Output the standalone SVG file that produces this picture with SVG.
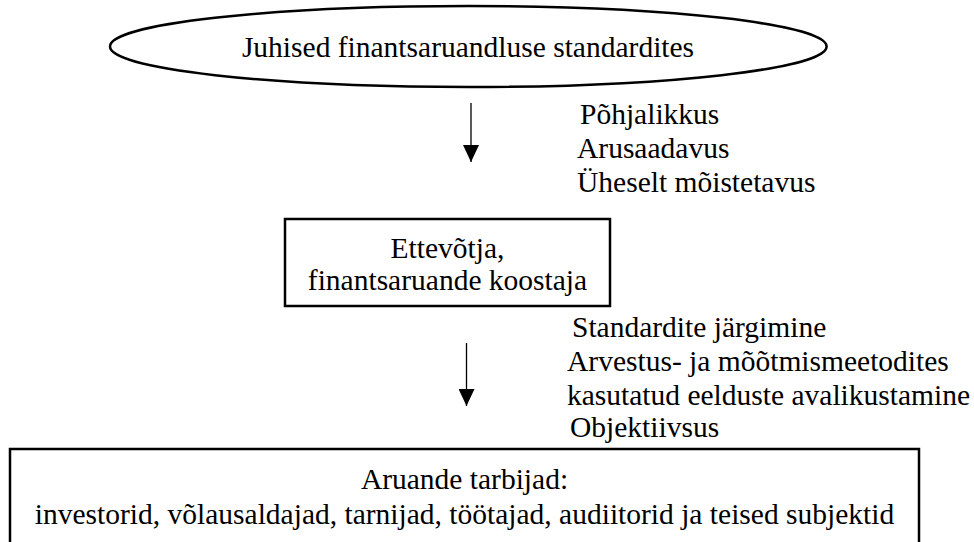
<svg xmlns="http://www.w3.org/2000/svg" width="974" height="542" viewBox="0 0 974 542">
<style>
  text { font-family: "Liberation Serif", "Times New Roman", serif; font-size: 29.5px; fill: #000; }
  .c { text-anchor: middle; }
  .shape { fill: #fff; stroke: #000; stroke-width: 2.5; }
  .conn { stroke: #000; stroke-width: 1.3; fill: none; }
</style>
<defs>
  <marker id="arr" markerWidth="17" markerHeight="16" refX="17" refY="8" orient="auto" markerUnits="userSpaceOnUse" viewBox="0 0 17 16">
    <path d="M0,0 L17,8 L0,16 Z" fill="#000"/>
  </marker>
</defs>
<rect width="974" height="542" fill="#fff"/>
<g id="node-standards">
  <ellipse class="shape" cx="468.3" cy="46.5" rx="358.3" ry="40.5"/>
  <text class="c" x="468" y="57">Juhised finantsaruandluse standardites</text>
</g>
<g id="node-company">
  <rect class="shape" x="285" y="219" width="325" height="87"/>
  <text class="c" x="447.5" y="258">Ettevõtja,</text>
  <text class="c" x="447.5" y="290">finantsaruande koostaja</text>
</g>
<g id="node-users">
  <rect class="shape" x="10" y="449" width="909" height="100"/>
  <text class="c" x="464.5" y="489">Aruande tarbijad:</text>
  <text class="c" x="464.5" y="524">investorid, võlausaldajad, tarnijad, töötajad, audiitorid ja teised subjektid</text>
</g>
<g id="connectors">
  <line class="conn" x1="471" y1="103" x2="471" y2="162" marker-end="url(#arr)"/>
  <line class="conn" x1="466.5" y1="343" x2="466.5" y2="406" marker-end="url(#arr)"/>
</g>
<g id="labels">
  <text x="580" y="124">Põhjalikkus</text>
  <text x="577" y="158">Arusaadavus</text>
  <text x="577" y="192">Üheselt mõistetavus</text>
  <text x="572" y="337">Standardite järgimine</text>
  <text x="567" y="371">Arvestus- ja mõõtmismeetodites</text>
  <text x="567" y="405">kasutatud eelduste avalikustamine</text>
  <text x="570" y="437">Objektiivsus</text>
</g>
</svg>
